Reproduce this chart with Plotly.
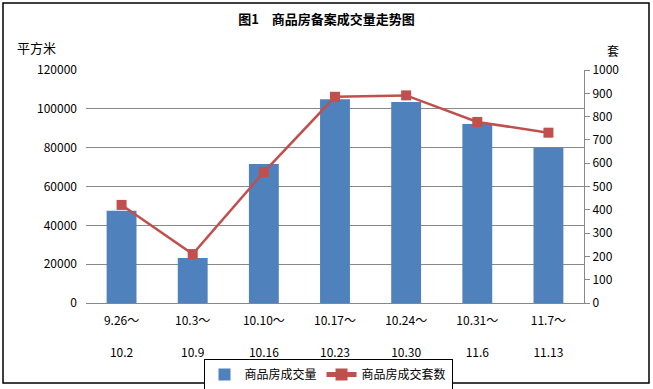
import plotly.graph_objects as go

categories = ["9.26～<br><br>10.2", "10.3～<br><br>10.9", "10.10～<br><br>10.16", "10.17～<br><br>10.23",
              "10.24～<br><br>10.30", "10.31～<br><br>11.6", "11.7～<br><br>11.13"]
area_values = [47500, 23200, 71600, 105000, 103500, 92200, 80000]
unit_values = [421, 210, 562, 885, 891, 777, 731]
left_ticks = [0, 20000, 40000, 60000, 80000, 100000, 120000]
right_ticks = [0, 100, 200, 300, 400, 500, 600, 700, 800, 900, 1000]

font_cn = "SimSun, 'Noto Sans CJK SC', sans-serif"

fig = go.Figure()
fig.add_trace(go.Bar(x=categories, y=area_values, name="商品房成交量",
                     marker=dict(color="#4F81BD", line=dict(width=0)), yaxis="y"))
fig.add_trace(go.Scatter(x=categories, y=unit_values, name="商品房成交套数", mode="lines+markers",
                         line=dict(color="#C0504D", width=2.5),
                         marker=dict(symbol="square", size=10, color="#C0504D"), yaxis="y2"))

fig.update_layout(
    width=653, height=389,
    margin=dict(l=86, r=69, t=70, b=86, autoexpand=False),
    paper_bgcolor="white", plot_bgcolor="white",
    font=dict(family=font_cn, size=12, color="black"),
    bargap=0.58,
    showlegend=True,
    legend=dict(orientation="h", xref="container", yref="container",
                x=328 / 653, xanchor="center", y=1 - 359 / 389, yanchor="top",
                bordercolor="black", borderwidth=1, font=dict(size=12),
                itemwidth=30, tracegroupgap=0, itemsizing="constant"),
    title=dict(text="<b>图1　商品房备案成交量走势图</b>", x=0.5, xanchor="center", y=0.949,
               yanchor="middle", font=dict(size=13)),
    xaxis=dict(showline=True, linecolor="#888888", linewidth=1, ticks="", showgrid=False,
               tickfont=dict(size=12), tickangle=0, ticklabelstandoff=7, automargin=False),
    yaxis=dict(range=[0, 120000], tickvals=left_ticks, tickformat="d", showgrid=True,
               gridcolor="#888888", gridwidth=1, showline=False, ticks="",
               tickfont=dict(size=12), zeroline=False, ticklabelstandoff=8, automargin=False),
    yaxis2=dict(range=[0, 1000], tickvals=right_ticks, tickformat="d", overlaying="y", side="right",
                showgrid=False, showline=True, linecolor="#888888", linewidth=1,
                ticks="outside", ticklen=5, tickcolor="#888888", tickfont=dict(size=12),
                zeroline=False, automargin=False),
    annotations=[
        dict(text="平方米", xref="paper", yref="paper", x=(15 - 86) / 498, y=(303 - 47) / 233,
             xanchor="left", yanchor="middle", showarrow=False, font=dict(size=13)),
        dict(text="套", xref="paper", yref="paper", x=(613 - 86) / 498, y=(303 - 51) / 233,
             xanchor="center", yanchor="middle", showarrow=False, font=dict(size=12)),
    ],
    shapes=[dict(type="rect", xref="paper", yref="paper",
                 x0=(3 - 86) / 498, x1=(649 - 86) / 498, y0=(303 - 383) / 233, y1=(303 - 3) / 233,
                 line=dict(color="black", width=1.5), fillcolor="rgba(0,0,0,0)")],
)

fig.write_html("out.html", config={"displayModeBar": False},
               post_script="document.body.style.margin='0';document.body.style.padding='0';")
